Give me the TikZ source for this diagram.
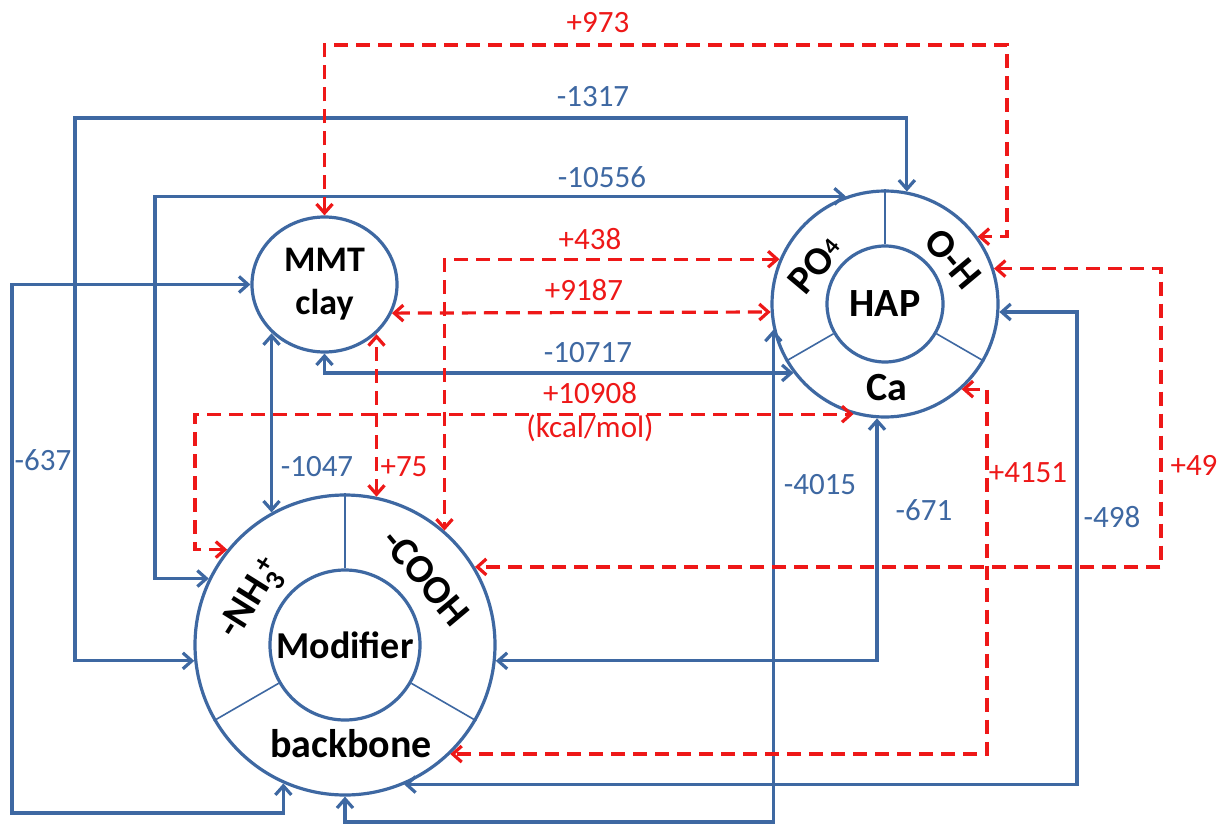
\documentclass[tikz,border=0pt]{standalone}
\usepackage{fontspec}
\setmainfont{Carlito}
\usetikzlibrary{arrows.meta,shapes.geometric}
\definecolor{bl}{RGB}{62,104,162}
\definecolor{rd}{RGB}{238,24,24}
\begin{document}
\begin{tikzpicture}[x=1pt,y=-1pt,
  >={Straight Barb[length=9pt,width=16pt]},
  bline/.style={draw=bl,line width=3.2pt,<->},
  rline/.style={draw=rd,line width=3.2pt,dash pattern=on 14pt off 8pt,<->},
  ring/.style={circle,draw=bl,line width=3.2pt,inner sep=0pt},
  divider/.style={draw=bl,line width=1.6pt},
  big/.style={font=\fontsize{40}{44}\selectfont\bfseries,inner sep=0pt},
  bnum/.style={text=bl,font=\fontsize{31}{35}\selectfont,inner sep=0pt},
  rnum/.style={text=rd,font=\fontsize{31}{35}\selectfont,inner sep=0pt}]
\useasboundingbox (0,0) rectangle (1220,824);
\fill[white] (0,0) rectangle (1220,824);

% ---- nodes ----
\node[draw=bl,line width=3.2pt,ellipse,minimum width=145pt,minimum height=135pt,
      inner sep=0pt,align=center,font=\fontsize{36}{43}\selectfont\bfseries] (mmt) at (324.5,284.5) {MMT\\clay};

\node[ring,minimum size=226pt] (hap) at (885,304) {};
\node[ring,minimum size=116pt,font=\fontsize{40}{44}\selectfont\bfseries] (hapin) at (885,304) {HAP};
\draw[divider] (hapin.90) -- (hap.90);
\draw[divider] (hapin.210) -- (hap.210);
\draw[divider] (hapin.330) -- (hap.330);
\node[big,rotate=50] (po4) at (815,265) {PO\raisebox{4pt}{\fontsize{24}{24}\selectfont 4}};
\node[big,rotate=-50] (oh) at (953,259) {O-H};
\node[big] (ca) at (887,388) {Ca};

\node[ring,minimum size=300pt] (mod) at (345,645) {};
\node[ring,minimum size=150pt,font=\fontsize{38}{42}\selectfont\bfseries] (modin) at (345,645) {Modifier};
\draw[divider] (modin.90) -- (mod.90);
\draw[divider] (modin.210) -- (mod.210);
\draw[divider] (modin.330) -- (mod.330);
\node[big,rotate=58] (nh3) at (251,603) {-NH\rlap{\textsuperscript{\hspace{0.3em}+}}\textsubscript{3}};
\node[big,rotate=-50] (cooh) at (426,577) {-COOH};
\node[big] (bb) at (351,744) {backbone};

% ---- helper coordinates for routing ----
\coordinate (x155) at (155,0);
\coordinate (x195) at (195,0);
\coordinate (x987) at (987,0);
\coordinate (x1077) at (1077,0);
\coordinate (x1161) at (1161,0);
\coordinate (y822) at (0,822);

% ---- blue connectors ----
\draw[bline] (mod.186) -| (75,118) -| (hap.79);
\draw[bline] (mod.154) -| (x155 |- hap.110) -- (hap.110);
\draw[bline] (mmt.180) -| (12,813) -| (mod.246);
\draw[bline] (mod.119) -- (mod.119 |- mmt.223);
\draw[bline] (mmt.270) |- (hap.217);
\draw[bline] (mod.270) |- (hap.193 |- y822) -- (hap.193);
\draw[bline] (mod.354) -| (hap.266);
\draw[bline] (hap.356) -| (x1077 |- mod.293) -- (mod.293);

% ---- red connectors ----
\draw[rline] (mmt.90) |- (1007,45) |- (hap.36);
\draw[rline] (hap.157) -| (mod.49);
\draw[rline] (mmt.337) -- (hap.184);
\draw[rline] (mod.78) -- (mod.78 |- mmt.316);
\draw[rline] (mod.141) -| (x195 |- hap.254) -- (hap.254);
\draw[rline] (hap.312) -| (x987 |- mod.314) -- (mod.314);
\draw[rline] (hap.18) -| (x1161 |- mod.31) -- (mod.31);

% ---- labels ----
\node[rnum] (l973) at (598,23) {+973};
\node[bnum] (l1317) at (593,97) {-1317};
\node[bnum] (l10556) at (602,177) {-10556};
\node[rnum] (l438) at (590,239) {+438};
\node[rnum] (l9187) at (584,290) {+9187};
\node[bnum] (l10717) at (588,353) {-10717};
\node[rnum] (l10908) at (590,393) {+10908};
\node[rnum] (lkcal) at (590,428) {(kcal/mol)};
\node[bnum] (l637) at (43,460) {-637};
\node[bnum] (l1047) at (317,467) {-1047};
\node[rnum] (l75) at (404,467) {+75};
\node[bnum] (l4015) at (820,485) {-4015};
\node[bnum] (l671) at (924,510) {-671};
\node[rnum] (l4151) at (1028,473) {+4151};
\node[bnum] (l498) at (1112,517) {-498};
\node[rnum] (l49) at (1194,465) {+49};
\end{tikzpicture}
\end{document}
